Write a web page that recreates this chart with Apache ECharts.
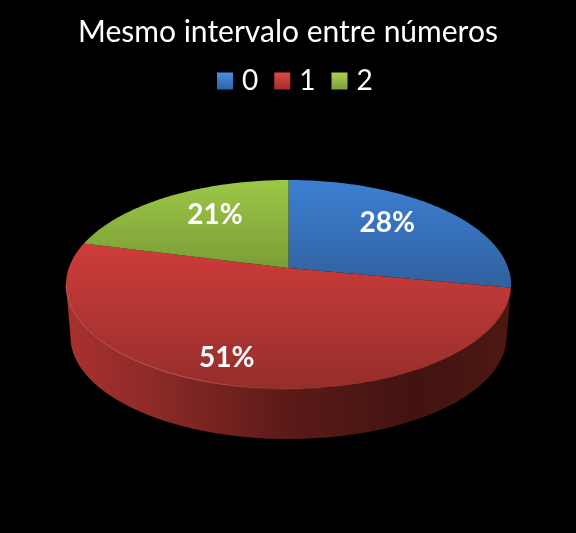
<!DOCTYPE html>
<html><head><meta charset="utf-8">
<style>html,body{margin:0;padding:0;background:#000}#c{width:576px;height:533px}</style>
<script src="https://cdn.jsdelivr.net/npm/echarts@6/dist/echarts.min.js"></script>
</head><body><div id="c"></div>
<script>
const titleText = 'Mesmo intervalo entre números';
const categories = ['0', '1', '2'];
const values = [28, 51, 21];

// Styles and projection settings (separate from the data)
const FONT = 'Lato, "Open Sans", sans-serif';
const faceStops = [['#3c7fd2', '#30609d', 180, 288], ['#cf3c3b', '#952e2b', 243, 389], ['#9cc746', '#7a9e37', 180, 268]];
const legendStops = [['#4a8fe0', '#2c62ad'], ['#dc4a48', '#a82c2a'], ['#a8d04e', '#7ea03a']];
const labelNudge = [[0, -7], [-29, 22], [4, -7]];
const P = { cx: 288.5, cy: 268, a: 219.7, b: 101.9, k: -0.158, wallDy: 52.1, wallScale: 0.98, ellipseCy: 284.5, labelR: 0.62 };

const total = values.reduce((s, v) => s + v, 0);
const rad = d => d * Math.PI / 180;

function project(theta, r) {
  const u = Math.sin(theta) * r, v = -Math.cos(theta) * r, w = 1 + P.k * v;
  return [P.cx + P.a * u / w, P.cy + P.b * v / w];
}
function lower(p) {
  return [P.cx + (p[0] - P.cx) * P.wallScale,
          P.ellipseCy + P.wallDy + (p[1] - P.ellipseCy) * P.wallScale];
}
function arc(t0, t1) {
  const pts = [], n = Math.max(2, Math.ceil((t1 - t0) / rad(1)));
  for (let i = 0; i <= n; i++) pts.push(project(t0 + (t1 - t0) * i / n, 1));
  return pts;
}
const frontStart = Math.acos(P.k), frontEnd = 2 * Math.PI - frontStart;

const linear = (x0, y0, x1, y1, stops) => new echarts.graphic.LinearGradient(x0, y0, x1, y1, stops, true);
const wallFill = linear(66, 0, 511, 0, [
  { offset: 0, color: '#a9312f' }, { offset: 0.2, color: '#8c2a28' }, { offset: 0.5, color: '#5b1a17' },
  { offset: 0.78, color: '#421310' }, { offset: 1, color: '#4d1813' }]);
const rimStroke = linear(66, 0, 330, 0, [
  { offset: 0, color: 'rgba(235,120,110,0.55)' }, { offset: 0.5, color: 'rgba(235,120,110,0.6)' }, { offset: 1, color: 'rgba(235,120,110,0)' }]);

function sliceRange(i) {
  const before = values.slice(0, i).reduce((s, v) => s + v, 0);
  return [before / total * 2 * Math.PI, (before + values[i]) / total * 2 * Math.PI];
}

function makeRender(i) {
  return function () {
    const [t0, t1] = sliceRange(i);
    const children = [];
    const w0 = Math.max(t0, frontStart), w1 = Math.min(t1, frontEnd);
    if (w1 > w0) {
      const top = arc(w0, w1);
      children.push({ type: 'polygon', z2: 1, shape: { points: top.concat(top.map(lower).reverse()) }, style: { fill: wallFill } });
    }
    const s = faceStops[i];
    const pts = [[P.cx, P.cy]].concat(arc(t0, t1));
    children.push({ type: 'polygon', z2: 2, shape: { points: pts },
      style: { fill: linear(0, s[2], 0, s[3], [{ offset: 0, color: s[0] }, { offset: 1, color: s[1] }]) } });
    if (w1 > w0) {
      children.push({ type: 'polyline', z2: 3, shape: { points: arc(w0, w1) },
        style: { fill: null, stroke: rimStroke, lineWidth: 1 } });
    }
    const c = project((t0 + t1) / 2, P.labelR);
    children.push({ type: 'text', z2: 4, x: c[0] + labelNudge[i][0], y: c[1] + labelNudge[i][1],
      style: { text: Math.round(values[i] / total * 100) + '%', fill: '#fff', font: 'bold 28px ' + FONT, align: 'center', verticalAlign: 'middle' } });
    return { type: 'group', children };
  };
}

const chart = echarts.init(document.getElementById('c'));
chart.setOption({
  backgroundColor: '#000',
  animation: false,
  title: { text: titleText, left: 'center', top: 12, textStyle: { color: '#fff', fontFamily: FONT, fontWeight: 'normal', fontSize: 30 } },
  legend: {
    data: categories, top: 62, left: 212, icon: 'rect', itemWidth: 16, itemHeight: 17, itemGap: 16,
    textStyle: { color: '#fff', fontFamily: FONT, fontSize: 28, padding: [0, 0, 0, 4] }
  },
  series: categories.map((name, i) => ({
    type: 'custom', name, coordinateSystem: 'none', silent: true,
    itemStyle: { color: new echarts.graphic.LinearGradient(0, 0, 0, 1, [{ offset: 0, color: legendStops[i][0] }, { offset: 1, color: legendStops[i][1] }]) },
    data: [values[i]],
    renderItem: makeRender(i)
  }))
});
</script></body></html>
